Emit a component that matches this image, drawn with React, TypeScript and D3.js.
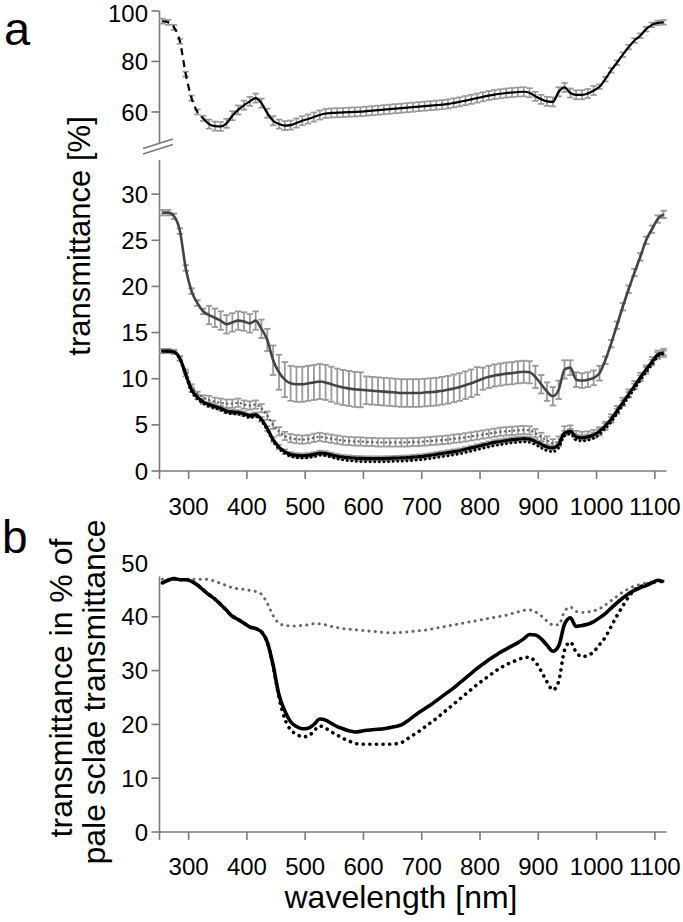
import React from "react";
import * as d3 from "d3";

// wavelengths (nm)
const WL = [
  255, 265, 275, 285, 295, 305, 315, 325, 335, 345,
  355, 365, 375, 385, 395, 405, 415, 425, 435, 445,
  455, 465, 475, 485, 495, 505, 515, 525, 535, 545,
  555, 565, 575, 585, 595, 605, 615, 625, 635, 645,
  655, 665, 675, 685, 695, 705, 715, 725, 735, 745,
  755, 765, 775, 785, 795, 805, 815, 825, 835, 845,
  855, 865, 875, 885, 895, 905, 915, 925, 935, 945,
  955, 965, 975, 985, 995, 1005, 1015, 1025, 1035, 1045,
  1055, 1065, 1075, 1085, 1095, 1105, 1115,
];

// panel a, upper (pale sclera) transmittance [%]
const PALE = [
  96, 95.5, 93.5, 88, 75, 65.5, 60, 57.5, 55.2, 54.4,
  54.3, 55.5, 58.5, 60.8, 62.7, 64.2, 65.5, 63.5, 59.5, 56.5,
  55.2, 54.6, 54.8, 55.6, 56.5, 57.2, 58, 58.8, 59.4, 59.6,
  59.7, 59.8, 59.9, 60, 60.1, 60.3, 60.5, 60.7, 60.9, 61.1,
  61.3, 61.5, 61.7, 61.9, 62.1, 62.3, 62.5, 62.7, 62.9, 63.2,
  63.6, 64, 64.5, 65, 65.5, 66, 66.5, 66.9, 67.2, 67.5,
  67.7, 67.9, 68, 67.6, 66.2, 65, 64.2, 64, 68, 69.7,
  67.5, 66.8, 66.8, 67.3, 68.5, 70, 73, 76.5, 79.5, 82.7,
  85.7, 88.3, 90.2, 92.8, 94.5, 95.3, 95.5,
];
const PALE_ERR = [
  1, 1, 1, 1, 1, 1, 1, 1, 1.8, 1.8,
  1.8, 1.8, 1.8, 1.8, 1.8, 1.8, 1.8, 1.8, 1.8, 1.8,
  1.8, 1.8, 1.8, 1.8, 1.8, 1.8, 1.8, 1.8, 1.8, 1.8,
  1.8, 1.8, 1.8, 1.8, 1.8, 1.8, 1.8, 1.8, 1.8, 1.8,
  1.8, 1.8, 1.8, 1.8, 1.8, 1.8, 1.8, 1.8, 1.8, 1.8,
  1.8, 1.8, 1.8, 1.8, 1.8, 1.8, 1.8, 1.8, 1.8, 1.8,
  1.8, 1.8, 1.8, 1.8, 1.8, 1.8, 1.8, 1.8, 1.8, 1.8,
  1.8, 1.8, 1.8, 1.8, 1.8, 0.9, 0.9, 0.9, 0.9, 0.9,
  0.9, 0.9, 0.9, 0.9, 0.9, 0.9, 0.9,
];

// panel a, lower: dark grey solid
const MID = [
  28, 28, 27.6, 26, 22, 19.5, 18.2, 17.3, 16.9, 16.6,
  16.3, 15.9, 16.1, 16.3, 16.2, 16, 16.3, 15.4, 14.2, 12,
  10.7, 9.9, 9.5, 9.4, 9.4, 9.5, 9.6, 9.7, 9.6, 9.4,
  9.2, 9.05, 8.95, 8.85, 8.8, 8.75, 8.7, 8.65, 8.6, 8.55,
  8.5, 8.45, 8.45, 8.45, 8.45, 8.5, 8.55, 8.6, 8.7, 8.8,
  8.95, 9.1, 9.3, 9.5, 9.75, 10, 10.2, 10.35, 10.45, 10.55,
  10.6, 10.7, 10.75, 10.7, 10.2, 9.4, 8.6, 8.1, 8.8, 11,
  11.2, 9.9, 9.8, 9.9, 10.1, 10.6, 12, 13.8, 15.8, 17.8,
  19.7, 21.5, 23.2, 25, 26.2, 27.3, 27.8,
];
const MID_ERR = [
  0.3, 0.3, 0.3, 0.3, 0.3, 0.3, 0.3, 0.3, 1, 1,
  1, 1, 1, 1, 1, 1, 1, 1, 1.2, 1.6,
  1.9, 1.9, 1.9, 1.9, 1.9, 1.9, 1.9, 1.9, 1.9, 1.9,
  1.9, 1.9, 1.9, 1.9, 1.9, 1.5, 1.5, 1.5, 1.5, 1.5,
  1.5, 1.5, 1.5, 1.5, 1.5, 1.5, 1.5, 1.5, 1.5, 1.5,
  1.5, 1.5, 1.5, 1.5, 1.5, 1.2, 1.2, 1.2, 1.2, 1.2,
  1.2, 1.2, 1.2, 1.2, 1.2, 1, 1, 1, 1, 1,
  0.8, 0.8, 0.8, 0.8, 0.8, 0.8, 0.4, 0.4, 0.4, 0.4,
  0.4, 0.4, 0.4, 0.4, 0.4, 0.4, 0.4,
];

// panel a, lower: grey dotted
const GREY = [
  13, 13, 12.9, 12.2, 10.8, 9.2, 8.4, 8, 7.7, 7.5,
  7.4, 7.3, 7.3, 7.4, 7.2, 7.1, 7.2, 6.8, 6, 5,
  4.3, 3.8, 3.55, 3.45, 3.4, 3.45, 3.6, 3.7, 3.6, 3.5,
  3.4, 3.3, 3.25, 3.2, 3.2, 3.15, 3.15, 3.1, 3.1, 3.1,
  3.1, 3.1, 3.1, 3.15, 3.15, 3.2, 3.25, 3.3, 3.35, 3.4,
  3.5, 3.55, 3.65, 3.75, 3.85, 3.95, 4.05, 4.15, 4.25, 4.3,
  4.35, 4.4, 4.45, 4.4, 4.1, 3.7, 3.3, 3, 3.3, 4.4,
  4.5, 3.9, 3.8, 3.85, 4, 4.3, 4.9, 5.7, 6.6, 7.5,
  8.4, 9.3, 10.2, 11, 11.9, 12.6, 12.8,
];
const GREY_ERR = [
  0.2, 0.2, 0.2, 0.2, 0.2, 0.2, 0.2, 0.2, 0.45, 0.45,
  0.45, 0.45, 0.45, 0.45, 0.45, 0.45, 0.45, 0.45, 0.45, 0.45,
  0.45, 0.45, 0.45, 0.45, 0.45, 0.45, 0.45, 0.45, 0.45, 0.45,
  0.45, 0.45, 0.45, 0.45, 0.45, 0.45, 0.45, 0.45, 0.45, 0.45,
  0.45, 0.45, 0.45, 0.45, 0.45, 0.45, 0.45, 0.45, 0.45, 0.45,
  0.45, 0.45, 0.45, 0.45, 0.45, 0.45, 0.45, 0.45, 0.45, 0.45,
  0.45, 0.45, 0.45, 0.45, 0.45, 0.45, 0.45, 0.45, 0.45, 0.45,
  0.45, 0.45, 0.45, 0.45, 0.45, 0.45, 0.45, 0.45, 0.45, 0.45,
  0.45, 0.45, 0.45, 0.45, 0.45, 0.45, 0.45,
];

// panel a, lower: black solid
const BLACK = [
  13, 13, 12.9, 12.2, 10.5, 8.8, 8, 7.5, 7.2, 7,
  6.8, 6.5, 6.4, 6.35, 6.2, 6, 6.1, 5.6, 4.6, 3.4,
  2.6, 2.1, 1.8, 1.7, 1.65, 1.7, 1.8, 1.95, 1.9, 1.75,
  1.6, 1.5, 1.45, 1.4, 1.37, 1.35, 1.35, 1.35, 1.35, 1.37,
  1.4, 1.42, 1.45, 1.5, 1.55, 1.62, 1.7, 1.8, 1.9, 2,
  2.1, 2.2, 2.35, 2.5, 2.65, 2.8, 2.95, 3.1, 3.2, 3.3,
  3.4, 3.45, 3.5, 3.45, 3.2, 2.9, 2.6, 2.5, 2.9, 4.1,
  4.3, 3.7, 3.6, 3.7, 3.9, 4.3, 4.9, 5.6, 6.5, 7.4,
  8.3, 9.2, 10.1, 11, 11.8, 12.6, 12.8,
];
const BLACK_ERR = 0.25;

// panel a, lower: black dotted
const BLACK_DOT = [
  13, 13, 12.9, 12.1, 10.3, 8.6, 7.8, 7.3, 7, 6.8,
  6.6, 6.3, 6.2, 6.15, 6, 5.8, 5.9, 5.4, 4.4, 3.2,
  2.4, 1.9, 1.6, 1.45, 1.4, 1.45, 1.55, 1.7, 1.65, 1.5,
  1.3, 1.2, 1.12, 1.06, 1.02, 1, 1, 1, 1, 1.02,
  1.05, 1.07, 1.1, 1.15, 1.2, 1.27, 1.35, 1.45, 1.55, 1.65,
  1.75, 1.85, 2, 2.15, 2.3, 2.45, 2.6, 2.75, 2.85, 2.95,
  3.05, 3.1, 3.15, 3.1, 2.85, 2.5, 2.2, 2.1, 2.5, 3.8,
  4, 3.35, 3.25, 3.35, 3.55, 3.95, 4.6, 5.3, 6.2, 7.1,
  8, 8.9, 9.8, 10.7, 11.5, 12.4, 12.7,
];

// panel b: % of pale sclera transmittance
const REL_SOLID = [
  46.3, 46.8, 47.1, 46.9, 46.9, 46.6, 45.9, 45, 44.1, 43.3,
  42.3, 41.2, 40.1, 39.5, 38.8, 38.1, 37.8, 37.2, 35.3, 31,
  25.5, 22.5, 20.5, 19.6, 19.2, 19.3, 20, 21, 20.8, 20.2,
  19.6, 19.2, 18.8, 18.6, 18.7, 18.9, 19, 19.1, 19.2, 19.4,
  19.6, 19.9, 20.6, 21.4, 22.2, 22.9, 23.6, 24.4, 25.2, 26,
  26.8, 27.7, 28.6, 29.5, 30.4, 31.2, 32, 32.7, 33.4, 34,
  34.6, 35.2, 35.9, 36.7, 36.6, 35.9, 34.7, 33.6, 34.6, 38.6,
  39.8, 38.2, 38.4, 38.6, 39.1, 39.8, 40.6, 41.6, 42.6, 43.5,
  44.3, 44.9, 45.4, 45.8, 46.3, 46.8, 46.5,
];
const REL_BLACK_DOT = [
  46.3, 46.8, 47.1, 46.9, 46.9, 46.6, 45.9, 45, 44.1, 43.3,
  42.3, 41.2, 40.1, 39.5, 38.8, 38.1, 37.8, 37.2, 35.2, 30.8,
  25, 21, 19, 18.2, 17.7, 17.8, 18.8, 19.7, 19.3, 18.6,
  18, 17.4, 16.9, 16.5, 16.3, 16.3, 16.3, 16.3, 16.3, 16.3,
  16.4, 16.6, 17.3, 18, 18.7, 19.5, 20.3, 21.1, 22, 22.9,
  23.8, 24.7, 25.6, 26.5, 27.4, 28.2, 29, 29.8, 30.5, 31.1,
  31.6, 32, 32.4, 32.5, 31.6, 29.9, 27.9, 26.4, 28, 33.8,
  35.3, 33.4, 32.6, 32.8, 33.5, 34.8, 36.2, 38.2, 40.2, 42,
  43.7, 45, 45.6, 46, 46.3, 46.6, 46.5,
];
const REL_GREY_DOT = [
  47, 47, 47, 47, 47, 47, 47, 47, 46.9, 46.6,
  46.2, 45.8, 45.4, 45.2, 45.1, 44.9, 44.7, 44.2, 42.5, 40.2,
  38.8, 38.4, 38.3, 38.3, 38.4, 38.5, 38.7, 38.7, 38.5, 38.2,
  38, 37.8, 37.7, 37.6, 37.5, 37.4, 37.3, 37.2, 37.1, 37.05,
  37.05, 37.1, 37.2, 37.3, 37.4, 37.5, 37.7, 37.9, 38.1, 38.3,
  38.5, 38.7, 38.9, 39.1, 39.3, 39.5, 39.7, 39.9, 40.1, 40.3,
  40.6, 40.9, 41.2, 41.3, 40.9, 40.2, 39.2, 38.5, 38.5, 41,
  41.8, 41, 40.8, 40.9, 41.1, 41.5, 42.2, 43, 43.8, 44.6,
  45.2, 45.7, 46, 46.3, 46.5, 46.7, 46.6,
];

const X_TICKS = [250, 300, 400, 500, 600, 700, 800, 900, 1000, 1100];
const Y_TICKS_UPPER = [60, 80, 100];
const Y_TICKS_LOWER = [0, 5, 10, 15, 20, 25, 30];
const Y_TICKS_B = [0, 10, 20, 30, 40, 50];

const FONT = "'Liberation Sans', Arial, Helvetica, sans-serif";
const AXIS = "#7a7a7a";
const ERRC = "#999999";

export default function App() {
  React.useEffect(() => {
    document.body.style.margin = "0";
  }, []);

  const x = d3.scaleLinear().domain([250, 1120]).range([159.5, 666.5]);
  const yU = d3.scaleLinear().domain([47.7, 100]).range([143, 11]);
  const yL = d3.scaleLinear().domain([0, 33.7]).range([471, 160]);
  const yB = d3.scaleLinear().domain([0, 50]).range([832, 563]);

  const path = (
    vals: number[],
    y: d3.ScaleLinear<number, number>,
    filter?: (w: number) => boolean
  ) => {
    const idx = WL.map((_, i) => i).filter((i) => (filter ? filter(WL[i]) : true));
    return (
      d3
        .line<number>()
        .x((i) => x(WL[i]))
        .y((i) => y(vals[i]))
        .curve(d3.curveMonotoneX)(idx) || ""
    );
  };

  const errBars = (
    vals: number[],
    errs: number[] | number,
    y: d3.ScaleLinear<number, number>,
    key: string,
    cap = 3.2
  ) =>
    WL.map((w, i) => {
      const e = typeof errs === "number" ? errs : errs[i];
      const cx = x(w);
      const y1 = y(vals[i] + e);
      const y2 = y(vals[i] - e);
      return (
        <g key={key + i}>
          <line x1={cx} x2={cx} y1={y1} y2={y2} />
          <line x1={cx - cap} x2={cx + cap} y1={y1} y2={y1} />
          <line x1={cx - cap} x2={cx + cap} y1={y2} y2={y2} />
        </g>
      );
    });

  const xAxis = (y0: number, labelY: number, key: string) => (
    <g key={key}>
      <line x1={x(250) - 1} x2={x(1120)} y1={y0} y2={y0} stroke={AXIS} strokeWidth={1.6} />
      {X_TICKS.map((t) => (
        <g key={key + t}>
          <line x1={x(t)} x2={x(t)} y1={y0} y2={y0 + 8} stroke={AXIS} strokeWidth={1.6} />
          {t >= 300 && (
            <text x={x(t)} y={labelY} textAnchor="middle" fontSize={24} fontFamily={FONT} fill="#000">
              {t}
            </text>
          )}
        </g>
      ))}
    </g>
  );

  const yTicks = (
    ticks: number[],
    y: d3.ScaleLinear<number, number>,
    key: string,
    noTick: number[] = [],
    nudge: Record<number, number> = {}
  ) =>
    ticks.map((t) => (
      <g key={key + t}>
        {!noTick.includes(t) && (
          <line x1={x(250) - 8} x2={x(250)} y1={y(t)} y2={y(t)} stroke={AXIS} strokeWidth={1.6} />
        )}
        <text
          x={148}
          y={y(t) + (nudge[t] || 0)}
          dy="0.36em"
          textAnchor="end"
          fontSize={24}
          fontFamily={FONT}
          fill="#000"
        >
          {t}
        </text>
      </g>
    ));

  const x0 = x(250);

  return (
    <svg
      width={683}
      height={922}
      style={{ position: "absolute", left: 0, top: 0, background: "#fff" }}
      xmlns="http://www.w3.org/2000/svg"
    >
      <rect x={0} y={0} width={683} height={922} fill="#fff" />

      {/* panel labels */}
      <text x={4} y={45} fontSize={47} fontFamily={FONT} fill="#000">a</text>
      <text x={2} y={553} fontSize={46} fontFamily={FONT} fill="#000">b</text>

      {/* ===== panel a ===== */}
      <text
        transform="translate(90,236) rotate(-90)"
        textAnchor="middle"
        fontSize={31}
        fontFamily={FONT}
        fill="#000"
      >
        transmittance [%]
      </text>

      {/* y axis segments */}
      <line x1={x0} x2={x0} y1={yU(100)} y2={143} stroke={AXIS} strokeWidth={1.6} />
      <line x1={x0} x2={x0} y1={160} y2={yL(0)} stroke={AXIS} strokeWidth={1.6} />
      {yTicks(Y_TICKS_UPPER, yU, "yu", [], { 100: 2 })}
      {yTicks(Y_TICKS_LOWER, yL, "yl")}
      {/* axis break */}
      <line x1={143} y1={148.5} x2={173} y2={139} stroke={AXIS} strokeWidth={1.6} />
      <line x1={143} y1={154} x2={173} y2={144.5} stroke={AXIS} strokeWidth={1.6} />

      {xAxis(yL(0), 515, "xa")}

      {/* upper pale curve */}
      <g stroke={ERRC} strokeWidth={1.7}>{errBars(PALE, PALE_ERR, yU, "pe")}</g>
      <path d={path(PALE, yU, (w) => w <= 325)} fill="none" stroke="#000" strokeWidth={2.2} strokeDasharray="7 5" />
      <path d={path(PALE, yU, (w) => w >= 325)} fill="none" stroke="#000" strokeWidth={2.2} />

      {/* mid dark grey */}
      <g stroke={ERRC} strokeWidth={1.8}>{errBars(MID, MID_ERR, yL, "me")}</g>
      <path d={path(MID, yL)} fill="none" stroke="#444" strokeWidth={2.6} />

      {/* grey dotted */}
      <g stroke={ERRC} strokeWidth={1.7}>{errBars(GREY, GREY_ERR, yL, "ge")}</g>
      <path d={path(GREY, yL)} fill="none" stroke="#666" strokeWidth={2.4} strokeDasharray="0.1 4.5" strokeLinecap="round" />

      {/* black */}
      <g stroke={ERRC} strokeWidth={1.6}>{errBars(BLACK, BLACK_ERR, yL, "be")}</g>
      <path d={path(BLACK_DOT, yL)} fill="none" stroke="#000" strokeWidth={2.8} strokeDasharray="0.1 4.5" strokeLinecap="round" />
      <path d={path(BLACK, yL)} fill="none" stroke="#000" strokeWidth={3.2} />

      {/* ===== panel b ===== */}
      <text
        transform="translate(72,688) rotate(-90)"
        textAnchor="middle"
        fontSize={32}
        fontFamily={FONT}
        fill="#000"
      >
        transmittance in % of
      </text>
      <text
        transform="translate(105,692) rotate(-90)"
        textAnchor="middle"
        fontSize={32}
        fontFamily={FONT}
        fill="#000"
      >
        pale sclae transmittance
      </text>

      <line x1={x0} x2={x0} y1={yB(47.5)} y2={yB(0)} stroke={AXIS} strokeWidth={1.6} />
      {yTicks(Y_TICKS_B, yB, "yb", [50])}
      {xAxis(yB(0), 875, "xb")}

      <path d={path(REL_GREY_DOT, yB)} fill="none" stroke="#666" strokeWidth={3} strokeDasharray="0.1 6.2" strokeLinecap="round" />
      <path d={path(REL_BLACK_DOT, yB)} fill="none" stroke="#000" strokeWidth={3.6} strokeDasharray="0.1 6.5" strokeLinecap="round" />
      <path d={path(REL_SOLID, yB)} fill="none" stroke="#000" strokeWidth={3.6} />

      <text x={401} y={908} textAnchor="middle" fontSize={32} fontFamily={FONT} fill="#000">
        wavelength [nm]
      </text>
    </svg>
  );
}
